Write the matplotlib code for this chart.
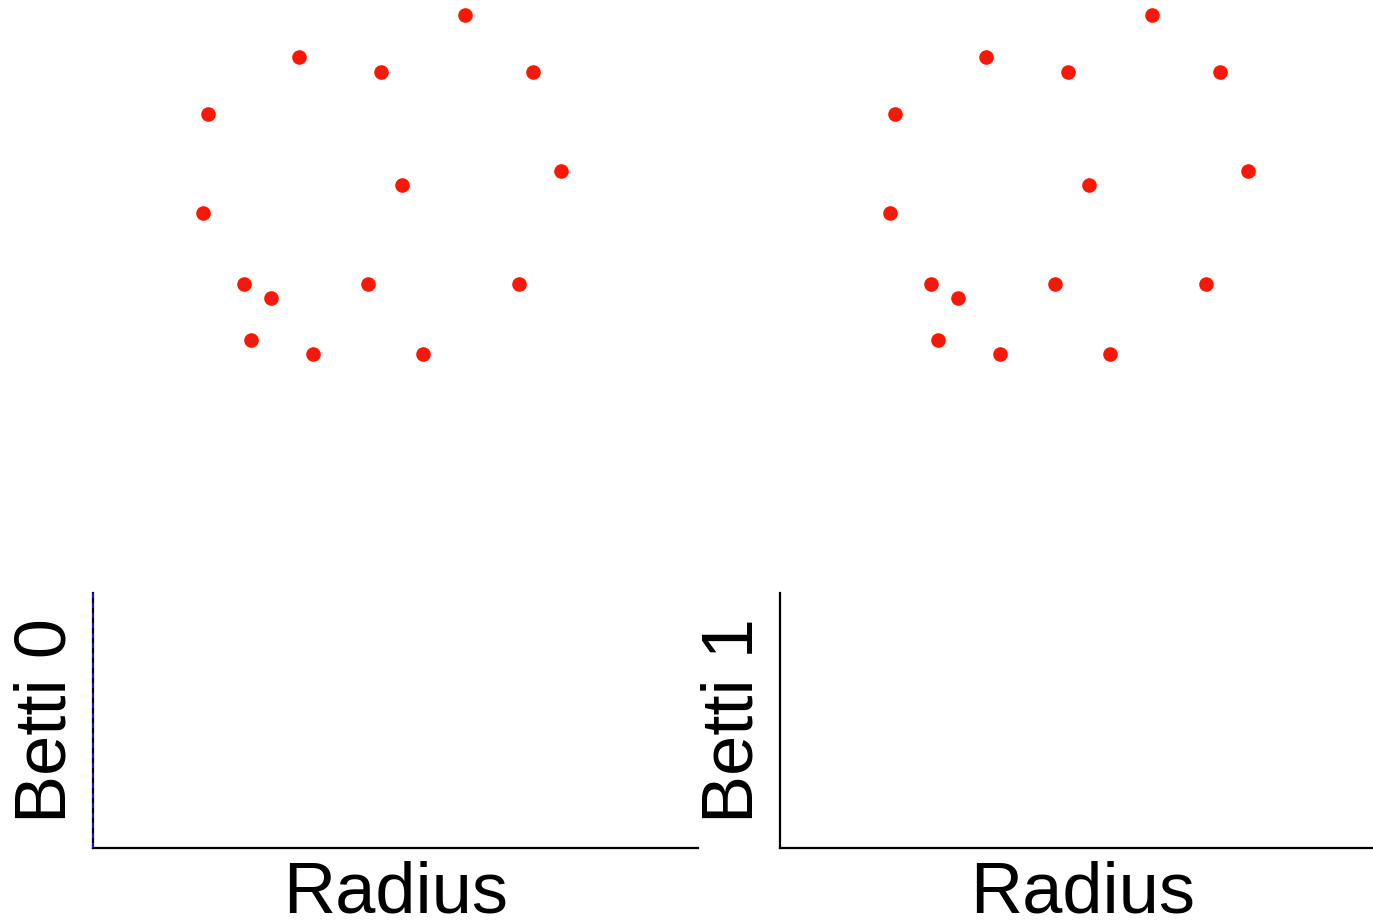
import numpy as np
import matplotlib
matplotlib.use("Agg")
import matplotlib.pyplot as plt

plt.rcParams['font.family'] = ['Liberation Sans', 'DejaVu Sans']

# point cloud (same cloud in both top panels)
pts_x = [4.65, 2.99, 3.81, 5.33, 2.08, 5.61, 4.02, 2.03, 2.44, 2.71, 3.68, 5.19, 2.51, 3.13, 4.23]
pts_y = [3.85, 3.43, 3.28, 3.28, 2.86, 2.29, 2.15, 1.87, 1.16, 1.02, 1.16, 1.16, 0.60, 0.46, 0.46]

# barcode lines (betti 0 has one bar at radius 0)
b0_radius = [0.0]
labels_y = ["Betti 0", "Betti 1"]
label_x = "Radius"

W, H = 1373, 923
fig = plt.figure(figsize=(W / 100, H / 100), dpi=100)

def fig_rect(x0, y0, x1, y1):
    # pixel box -> figure fraction
    return [x0 / W, 1 - y1 / H, (x1 - x0) / W, (y1 - y0) / H]

# top panels: the point cloud
for dx in [0, 687]:
    ax = fig.add_axes(fig_rect(93 + dx, 0, 698 + dx, 560))
    ax.plot(pts_x, pts_y, 'o', color='#ff1500', ms=10.5, mew=0)
    ax.plot(pts_x, pts_y, '.', color='#6040d0', ms=0.8)
    ax.set_xlim(0.93, 6.98)
    ax.set_ylim(-1.6, 4.0)
    ax.axis('off')

# bottom panels: barcodes (right one runs past the figure edge)
boxes = [(93, 593, 698, 848), (780, 593, 1385, 848)]
for i, b in enumerate(boxes):
    ax = fig.add_axes(fig_rect(*b))
    ax.set_xlim(0, 1)
    ax.set_ylim(0, 1)
    for s in ['top', 'right']:
        ax.spines[s].set_visible(False)
    for s in ['left', 'bottom']:
        ax.spines[s].set_linewidth(1.6)
    ax.set_xticks([])
    ax.set_yticks([])
    if i == 0:
        for r in b0_radius:
            ax.plot([r, r], [0, 1], color='#1a1aff', ls=(0, (3, 3)), lw=1.2,
                    zorder=3, clip_on=False)
    ax.set_xlabel(label_x, fontsize=52, labelpad=9)
    ax.set_ylabel(labels_y[i], fontsize=52, labelpad=9)

fig.savefig("out.png", dpi=100)
